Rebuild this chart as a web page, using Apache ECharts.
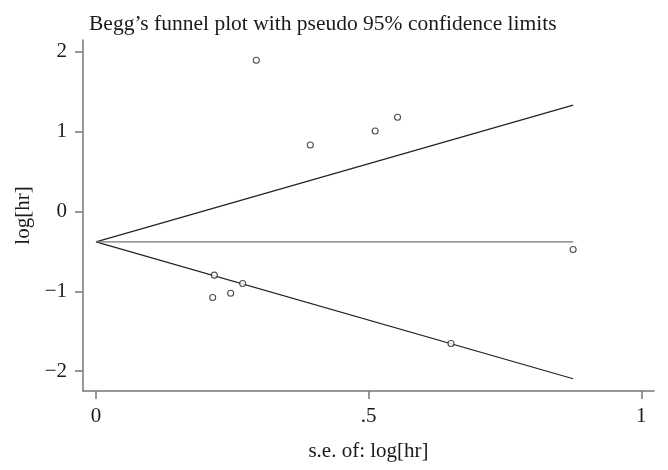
<!DOCTYPE html>
<html>
<head>
<meta charset="utf-8">
<script src="https://cdn.jsdelivr.net/npm/echarts@6/dist/echarts.min.js"></script>
<style>
html,body{margin:0;padding:0;background:#fff;}
#chart{width:668px;height:470px;}
</style>
</head>
<body>
<div id="chart"></div>
<script>
// Study points: standard error vs log hazard ratio
const studySe = [0.294, 0.393, 0.512, 0.553, 0.217, 0.269, 0.214, 0.247, 0.875, 0.651];
const studyLogHr = [1.896, 0.834, 1.010, 1.182, -0.798, -0.902, -1.078, -1.024, -0.476, -1.654];
// Pseudo 95% confidence limit lines (endpoints at se = 0 and se = max)
const limitSe = [0, 0.875];
const upperLimit = [-0.381, 1.333];
const lowerLimit = [-0.381, -2.096];
const pooledLine = [-0.381, -0.381];
// Tick labels
const xTickValues = [0, 0.5, 1];
const xTickLabels = ['0', '.5', '1'];
const yTickValues = [-2, -1, 0, 1, 2];
const yTickLabels = ['\u22122', '\u22121', '0', '1', '2'];

const font = '"Liberation Serif", "DejaVu Serif", serif';
const pair = (xs, ys) => xs.map((x, i) => [x, ys[i]]);

const chart = echarts.init(document.getElementById('chart'), null, {renderer: 'canvas'});
chart.setOption({
  animation: false,
  backgroundColor: '#fff',
  title: {
    text: 'Begg\u2019s funnel plot with pseudo 95% confidence limits',
    left: 84, top: 8,
    textStyle: {fontFamily: font, fontSize: 21.5, fontWeight: 'normal', color: '#1a1a1a'}
  },
  grid: {left: 83, right: 14, top: 40, bottom: 79, containLabel: false},
  xAxis: {
    type: 'value', min: -0.0238, max: 1.0233,
    name: 's.e. of: log[hr]', nameLocation: 'middle', nameGap: 50,
    nameTextStyle: {fontFamily: font, fontSize: 21, color: '#1a1a1a'},
    splitLine: {show: false},
    axisLine: {show: true, onZero: false, lineStyle: {color: '#777', width: 1.5}},
    axisTick: {show: true, length: 8, customValues: xTickValues, lineStyle: {color: '#777', width: 1.5}},
    axisLabel: {customValues: xTickValues, margin: 15, fontFamily: font, fontSize: 21, color: '#1a1a1a',
      formatter: v => xTickLabels[xTickValues.indexOf(v)] ?? ''}
  },
  yAxis: {
    type: 'value', min: -2.25, max: 2.15,
    name: 'log[hr]', nameLocation: 'middle', nameGap: 48, nameRotate: 90,
    nameTextStyle: {fontFamily: font, fontSize: 21, color: '#1a1a1a'},
    splitLine: {show: false},
    axisLine: {show: true, onZero: false, lineStyle: {color: '#777', width: 1.5}},
    axisTick: {show: true, length: 8, customValues: yTickValues, lineStyle: {color: '#777', width: 1.5}},
    axisLabel: {customValues: yTickValues, margin: 16, fontFamily: font, fontSize: 21, color: '#1a1a1a',
      formatter: v => yTickLabels[yTickValues.indexOf(v)] ?? ''}
  },
  series: [
    {type: 'line', data: pair(limitSe, upperLimit), symbol: 'none', lineStyle: {color: '#222', width: 1.2}, z: 2},
    {type: 'line', data: pair(limitSe, lowerLimit), symbol: 'none', lineStyle: {color: '#222', width: 1.2}, z: 2},
    {type: 'line', data: pair(limitSe, pooledLine), symbol: 'none', lineStyle: {color: '#777', width: 1.2}, z: 2},
    {type: 'scatter', data: pair(studySe, studyLogHr), symbol: 'circle', symbolSize: 6,
      itemStyle: {color: '#fff', borderColor: '#222', borderWidth: 1.1}, z: 3}
  ]
});
</script>
</body>
</html>
